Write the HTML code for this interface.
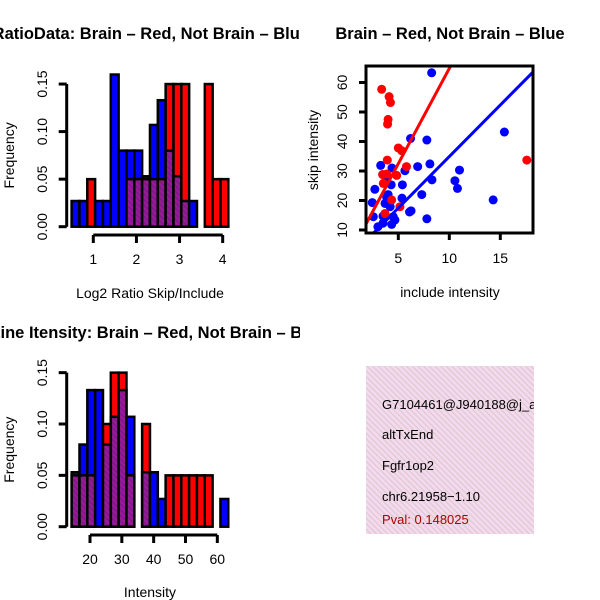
<!DOCTYPE html>
<html><head><meta charset="utf-8"><style>
html,body{margin:0;padding:0;background:#fff}
svg{display:block;font-family:"Liberation Sans",sans-serif}
</style></head><body>
<svg id="s" width="600" height="600" viewBox="0 0 600 600">
<defs>
<pattern id="purp" width="4" height="4" patternUnits="userSpaceOnUse" patternTransform="rotate(-45)">
<rect width="4" height="4" fill="#9a189a"/><rect width="1.5" height="4" fill="#7a1a88"/></pattern>
<pattern id="pink" width="4" height="4" patternUnits="userSpaceOnUse" patternTransform="rotate(-45)">
<rect width="4" height="4" fill="#f6d8f0"/><rect width="1.2" height="4" fill="#d9cccc"/></pattern>
<clipPath id="c1"><rect x="0" y="0" width="300" height="300"/></clipPath>
<clipPath id="c2"><rect x="0" y="300" width="300" height="300"/></clipPath>
<clipPath id="c3"><rect x="366" y="66" width="167" height="167"/></clipPath>
<clipPath id="c4"><rect x="366" y="366" width="168" height="168"/></clipPath>
</defs>
<g clip-path="url(#c1)"><text x="309" y="39" text-anchor="end" font-size="16.5" font-weight="bold">Log2 RatioData: Brain – Red, Not Brain – Blue</text></g>
<g clip-path="url(#c2)"><text x="326" y="338" text-anchor="end" font-size="16.5" font-weight="bold">Probe Line Itensity: Brain – Red, Not Brain – Blue</text></g>
<text x="450" y="39" text-anchor="middle" font-size="16.5" font-weight="bold">Brain – Red, Not Brain – Blue</text>
<g id="h1"></g>
<g id="h2"></g>
<g id="sc"></g>
<g>
<rect x="366" y="366" width="168" height="168" fill="url(#pink)"/>
<g clip-path="url(#c4)" font-size="13">
<text x="382" y="409">G7104461@J940188@j_at</text>
<text x="382" y="439">altTxEnd</text>
<text x="382" y="470">Fgfr1op2</text>
<text x="382" y="501">chr6.21958−1.10</text>
<text x="382" y="524" fill="#b00000">Pval: 0.148025</text>
</g></g>
</svg>
<script>
// Histogram 1 (log2 ratio)
const h1Start = 0.497, h1Width = 0.1817;
const h1Blue = [.027,.027,0,.027,.027,.16,.08,.08,.08,.053,.107,.133,.08,.053,.027,.027,0,0,0,0];
const h1Red  = [0,0,.05,0,0,0,0,.05,.05,.05,.05,.05,.15,.15,.15,0,0,.15,.05,.05];
const h1XTicks = [1,2,3,4];
// Histogram 2 (intensity)
const h2Start = 14.24, h2Width = 2.46;
const h2Blue = [.053,.08,.133,.133,.08,.107,.133,.107,0,.053,.053,.027,0,0,0,0,0,0,0,.027];
const h2Red  = [.05,.05,.05,0,.1,.15,.15,.05,0,.1,0,0,.05,.05,.05,.05,.05,.05,0,0];
const h2XTicks = [20,30,40,50,60];
const yTicks = ["0.00","0.05","0.10","0.15"];
// Scatter
const blueX = [8.27,6.2,7.8,15.4,3.27,4.38,5.65,6.9,8.1,11,2.7,3.86,4.3,5.4,8.3,10.55,10.8,2.45,4,3.7,4.2,5.36,7.3,14.3,2.55,3.5,4.5,4.67,3,4.35,6.1,6.25,7.8,3.5,3.86];
const blueY = [63.3,41,40.5,43.2,31.9,31,30.1,31.5,32.4,30.3,23.8,27.2,25.3,25.3,27,26.7,24.1,19.3,22,19,17.9,20.8,22,20.2,14.5,14.7,14.5,13.4,11.1,11.9,16.1,16.5,13.8,12.3,21];
const redX = [3.37,4.1,4.23,4,3.95,5,5.33,3.92,5.8,17.6,3.46,3.86,4.84,3.53,4.35,5.16,3.7];
const redY = [57.7,55.2,53.2,47.5,45.9,37.8,36.9,33.7,31.5,33.7,28.8,29,28.5,25.8,20.2,17.9,15.6];
const redFit = [0.18, 6.46];
const blueFit = [0.0, 3.49];
const scXTicks = [5,10,15];
const scYTicks = [10,20,30,40,50,60];

const NS = "http://www.w3.org/2000/svg";
function mk(tag, attrs, parent){const e=document.createElementNS(NS,tag);for(const k in attrs)e.setAttribute(k,attrs[k]);parent.appendChild(e);return e;}

function hist(g, start, width, blue, red, xticks, x0px, x0val, pxPerUnit, y0px, pxPerFreq, axisY, xTitle, xTitleY){
  const X = v => x0px + (v - x0val) * pxPerUnit;
  const Y = f => y0px - f * pxPerFreq;
  for (let i=0;i<blue.length;i++){
    const b=blue[i], r=red[i]; if(!b && !r) continue;
    const xa=X(start+i*width), xb=X(start+(i+1)*width);
    const mx=Math.max(b,r), mn=Math.min(b,r);
    const top=mk('rect',{x:xa,y:Y(mx),width:xb-xa,height:Y(0)-Y(mx),fill:b>=r?'#0000ff':'#ff0000',stroke:'#000','stroke-width':2.5},g);
    
    
    if(mn>0){
      const o=mk('rect',{x:xa,y:Y(mn),width:xb-xa,height:Y(0)-Y(mn),fill:'url(#purp)',stroke:'#000','stroke-width':2.5},g);
      
      
    }
  }
  const ax = 66.7;
  const ya=mk('line',{x1:ax,x2:ax,y1:Y(0),y2:Y(0.15),stroke:'#000','stroke-width':3},g);
   
  yTicks.forEach(t=>{const v=parseFloat(t);const y=Y(v);
    mk('line',{x1:ax-8,x2:ax,y1:y,y2:y,stroke:'#000','stroke-width':3},g);
    const tx=mk('text',{x:0,y:0,'font-size':14,'text-anchor':'middle',transform:`translate(47,${y}) rotate(-90)`},g);
    tx.textContent=t;  });
  const xa=mk('line',{x1:X(xticks[0]),x2:X(xticks[xticks.length-1]),y1:axisY,y2:axisY,stroke:'#000','stroke-width':3},g);
   
  xticks.forEach(t=>{const x=X(t);
    mk('line',{x1:x,x2:x,y1:axisY,y2:axisY+8,stroke:'#000','stroke-width':3},g);
    const tx=mk('text',{x:x,y:axisY+29,'font-size':14,'text-anchor':'middle'},g);
    tx.textContent=t;  });
  const xt=mk('text',{x:150,y:xTitleY,'font-size':14,'text-anchor':'middle'},g);
  xt.textContent=xTitle;  
  const ytl=mk('text',{x:0,y:0,'font-size':14,'text-anchor':'middle',transform:`translate(14,${Y(0.075)}) rotate(-90)`},g);
  ytl.textContent='Frequency';  
}
hist(document.getElementById('h1'), h1Start, h1Width, h1Blue, h1Red, h1XTicks, 93.3, 1, 43.13, 226.7, 951, 235, 'Log2 Ratio Skip/Include', 298);
hist(document.getElementById('h2'), h2Start, h2Width, h2Blue, h2Red, h2XTicks, 90, 20, 3.183, 526.7, 1027, 535, 'Intensity', 597);

(function(){
  const g=document.getElementById('sc');
  const X=v=>398.3+(v-5)*10.2, Y=v=>230-(v-10)*2.95;
  const pts=mk('g',{'clip-path':'url(#c3)'},g);
  function fit(c,col,name){const xs=1.8,xe=18.3;
    const l=mk('line',{x1:X(xs),y1:Y(c[0]+c[1]*xs),x2:X(xe),y2:Y(c[0]+c[1]*xe),stroke:col,'stroke-width':3},pts);
     }
  blueX.forEach((x,i)=>{const c=mk('circle',{cx:X(x),cy:Y(blueY[i]),r:4.5,fill:'#0000ff'},pts);
     });
  redX.forEach((x,i)=>{const c=mk('circle',{cx:X(x),cy:Y(redY[i]),r:4.5,fill:'#ff0000'},pts);
     });
  fit(redFit,'#ff0000','red-fit-line'); fit(blueFit,'#0000ff','blue-fit-line');
  const b=mk('rect',{x:366,y:66,width:167,height:167,fill:'none',stroke:'#000','stroke-width':3},g);
   
  scXTicks.forEach(t=>{const x=X(t);mk('line',{x1:x,x2:x,y1:233,y2:240,stroke:'#000','stroke-width':3},g);
    const tx=mk('text',{x:x,y:263,'font-size':14,'text-anchor':'middle'},g);
    tx.textContent=t;  });
  scYTicks.forEach(t=>{const y=Y(t);mk('line',{x1:359,x2:366,y1:y,y2:y,stroke:'#000','stroke-width':3},g);
    const tx=mk('text',{x:0,y:0,'font-size':14,'text-anchor':'middle',transform:`translate(347,${y}) rotate(-90)`},g);
    tx.textContent=t;  });
  const xt=mk('text',{x:450,y:297,'font-size':14,'text-anchor':'middle'},g);
  xt.textContent='include intensity';  
  const yt=mk('text',{x:0,y:0,'font-size':14,'text-anchor':'middle',transform:'translate(318,150) rotate(-90)'},g);
  yt.textContent='skip intensity';  
})();
</script>
</body></html>
